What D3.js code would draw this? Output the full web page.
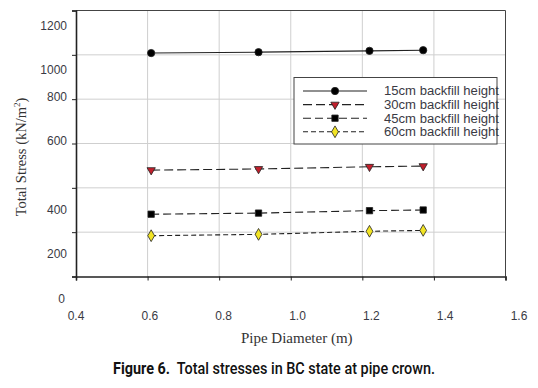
<!DOCTYPE html>
<html lang="en">
<head>
<meta charset="UTF-8" />
<title>Total stresses in BC state at pipe crown</title>
<script src="https://d3js.org/d3.v7.min.js"></script>
<style>
  body { margin: 0; background: #fff; }
  svg { display: block; }
</style>
</head>
<body>
<script>
// pipe diameters (m)
const diameters = [0.61, 0.91, 1.22, 1.37];
// total stress (kN/m2) per backfill height
const stress15 = [1008, 1012, 1018, 1021];
const stress30 = [480, 485, 495, 498];
const stress45 = [281, 286, 297, 300];
const stress60 = [184, 190, 204, 208];
const seriesNames = ["15cm backfill height", "30cm backfill height", "45cm backfill height", "60cm backfill height"];
const xTicks = [0.4, 0.6, 0.8, 1.0, 1.2, 1.4, 1.6];
const yTicks = [0, 200, 400, 600, 800, 1000, 1200];

const W = 538, H = 388;
const plot = { left: 76, right: 505.5, top: 10.5, bottom: 276.5 };

const svg = d3.select("body").append("svg").attr("width", W).attr("height", H);

const x = d3.scaleLinear().domain([0.4, 1.6]).range([plot.left, plot.right]);
const y = d3.scaleLinear().domain([0, 1200]).range([plot.bottom, plot.top]);
// the printed tick labels do not sit on the ticks in the original figure
const xLabel = d3.scaleLinear().domain([0.4, 1.6]).range([76, 519]);
const yLabelNudge = { 0: 22, 200: 22, 400: 22, 600: -3, 800: -2, 1000: 15, 1200: 15 };

// grid
svg.append("g").selectAll("line").data(xTicks.slice(1, -1)).join("line")
  .attr("x1", d => x(d)).attr("x2", d => x(d))
  .attr("y1", plot.top).attr("y2", plot.bottom)
  .attr("stroke", "#cfcfcf").attr("stroke-width", 1);
svg.append("g").selectAll("line").data(yTicks.slice(1, -1)).join("line")
  .attr("x1", plot.left).attr("x2", plot.right)
  .attr("y1", d => y(d)).attr("y2", d => y(d))
  .attr("stroke", "#cfcfcf").attr("stroke-width", 1);

// frame
svg.append("line").attr("x1", plot.left).attr("x2", plot.right).attr("y1", plot.top).attr("y2", plot.top)
  .attr("stroke", "#444").attr("stroke-width", 1);
svg.append("line").attr("x1", plot.right).attr("x2", plot.right).attr("y1", plot.top).attr("y2", plot.bottom)
  .attr("stroke", "#444").attr("stroke-width", 1);

// axes
const xAxis = svg.append("g").attr("transform", `translate(0,${plot.bottom})`)
  .call(d3.axisBottom(x).tickValues(xTicks).tickSize(4).tickFormat(""));
const yAxis = svg.append("g").attr("transform", `translate(${plot.left},0)`)
  .call(d3.axisLeft(y).tickValues(yTicks).tickSize(4).tickFormat(""));
[xAxis, yAxis].forEach(g => {
  g.select(".domain").attr("stroke", "#222").attr("stroke-width", 1.6);
  g.selectAll(".tick line").attr("stroke", "#222").attr("stroke-width", 1);
});

svg.append("g").selectAll("text").data(xTicks).join("text")
  .attr("x", d => xLabel(d)).attr("y", 320)
  .attr("text-anchor", "middle")
  .attr("font-family", "Liberation Sans, Arial, sans-serif").attr("font-size", 12)
  .attr("fill", "#3a3a44")
  .text(d => d.toFixed(1));

svg.append("g").selectAll("text").data(yTicks).join("text")
  .attr("x", d => d === 0 ? 65 : 67).attr("y", d => y(d) + yLabelNudge[d])
  .attr("dy", "0.35em")
  .attr("text-anchor", "end")
  .attr("font-family", "Liberation Sans, Arial, sans-serif").attr("font-size", 12)
  .attr("fill", "#3a3a44")
  .text(d => d);

// axis titles
svg.append("text")
  .attr("x", (plot.left + plot.right) / 2 + 6).attr("y", 343)
  .attr("text-anchor", "middle")
  .attr("font-family", "Liberation Serif, Times New Roman, serif").attr("font-size", 15)
  .attr("fill", "#333")
  .text("Pipe Diameter (m)");

const yt = svg.append("text")
  .attr("transform", "translate(26,157) rotate(-90)")
  .attr("text-anchor", "middle")
  .attr("font-family", "Liberation Serif, Times New Roman, serif").attr("font-size", 14.5)
  .attr("fill", "#333");
yt.append("tspan").text("Total Stress (kN/m");
yt.append("tspan").attr("font-size", 9).attr("dy", -6).text("2");
yt.append("tspan").attr("dy", 6).text(")");

// series
const series = [
  { values: stress15, dash: null, shape: d3.symbolCircle, size: 42, fill: "#000" },
  { values: stress30, dash: "9,4", shape: d3.symbolTriangle, size: 30, fill: "#c21f2c", rotate: 180 },
  { values: stress45, dash: "8,4", shape: d3.symbolSquare, size: 40, fill: "#000" },
  { values: stress60, dash: "5,3", shape: d3.symbolDiamond, size: 40, fill: "#f2e424" }
];

const line = d3.line().x(d => x(d[0])).y(d => y(d[1]));

function marker(g, s, cx, cy) {
  g.append("path")
    .attr("d", d3.symbol().type(s.shape).size(s.size)())
    .attr("transform", `translate(${cx},${cy})` + (s.rotate ? ` rotate(${s.rotate})` : ""))
    .attr("fill", s.fill).attr("stroke", "#222").attr("stroke-width", 0.8);
}

series.forEach(s => {
  const pts = diameters.map((d, i) => [d, s.values[i]]);
  svg.append("path").datum(pts)
    .attr("d", line)
    .attr("fill", "none").attr("stroke", "#222").attr("stroke-width", 1.1)
    .attr("stroke-dasharray", s.dash);
  const g = svg.append("g");
  pts.forEach(p => marker(g, s, x(p[0]), y(p[1])));
});

// legend
const lg = svg.append("g");
lg.append("rect").attr("x", 294).attr("y", 77.5).attr("width", 203).attr("height", 66.5)
  .attr("fill", "#fff").attr("stroke", "#444").attr("stroke-width", 1);
series.forEach((s, i) => {
  const ry = 91 + i * 13.6;
  lg.append("line").attr("x1", 303).attr("x2", 367).attr("y1", ry).attr("y2", ry)
    .attr("stroke", "#222").attr("stroke-width", 1.1).attr("stroke-dasharray", s.dash);
  marker(lg, s, 335, ry);
  lg.append("text").attr("x", 384).attr("y", ry).attr("dy", "0.35em")
    .attr("font-family", "Liberation Sans, Arial, sans-serif").attr("font-size", 12.5)
    .attr("fill", "#3a3a44")
    .attr("textLength", 115).attr("lengthAdjust", "spacingAndGlyphs")
    .text(seriesNames[i]);
});

// caption
const cap = svg.append("text")
  .attr("x", 113).attr("y", 374)
  .attr("font-family", "Roboto, Liberation Sans, sans-serif").attr("font-size", 16)
  .attr("fill", "#111")
  .attr("textLength", 322).attr("lengthAdjust", "spacingAndGlyphs");
cap.append("tspan").attr("font-weight", "bold").text("Figure 6.");
cap.append("tspan").attr("font-weight", 500).text("\u00a0 Total stresses in BC state at pipe crown.");
</script>
</body>
</html>
